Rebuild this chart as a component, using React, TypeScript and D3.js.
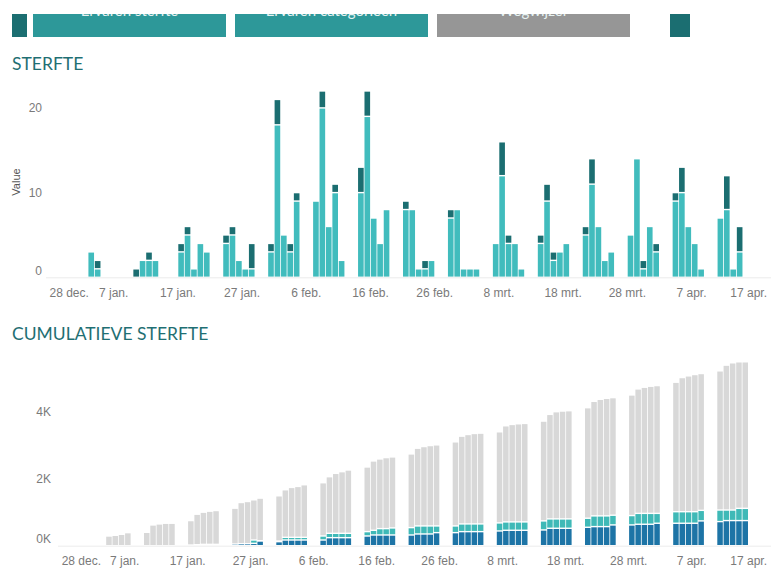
import React from "react";
import * as d3 from "d3";

// ---------- categories ----------
const weekStarts = [
  "2022-01-03", "2022-01-10", "2022-01-17", "2022-01-24", "2022-01-31",
  "2022-02-07", "2022-02-14", "2022-02-21", "2022-02-28", "2022-03-07",
  "2022-03-14", "2022-03-21", "2022-03-28", "2022-04-04", "2022-04-11",
];
const tickDates = [
  "2021-12-28", "2022-01-07", "2022-01-17", "2022-01-27", "2022-02-06", "2022-02-16",
  "2022-02-26", "2022-03-08", "2022-03-18", "2022-03-28", "2022-04-07", "2022-04-17",
];
const tickLabels = [
  "28 dec.", "7 jan.", "17 jan.", "27 jan.", "6 feb.", "16 feb.",
  "26 feb.", "8 mrt.", "18 mrt.", "28 mrt.", "7 apr.", "17 apr.",
];
const buttonLabels = ["Ervaren sterfte", "Ervaren categorieën", "Wegwijzer"];

// ---------- STERFTE (daily, weekdays) ----------
const sterfteLight = [
  3, 1, 0, 0, 0,
  0, 2, 2, 2, 0,
  3, 5, 1, 4, 3,
  4, 5, 2, 1, 1,
  3, 18, 5, 3, 9,
  9, 20, 6, 10, 2,
  10, 19, 7, 4, 8,
  8, 8, 1, 1, 2,
  7, 8, 1, 1, 1,
  4, 12, 4, 4, 1,
  4, 9, 2, 3, 4,
  5, 11, 6, 2, 3,
  5, 14, 1, 6, 3,
  9, 10, 6, 4, 1,
  7, 8, 1, 3, 0,
];
const sterfteDark = [
  0, 1, 0, 0, 0,
  1, 0, 1, 0, 0,
  1, 1, 0, 0, 0,
  1, 1, 0, 0, 3,
  1, 3, 0, 1, 1,
  0, 2, 0, 1, 0,
  3, 3, 0, 0, 0,
  1, 0, 0, 1, 0,
  1, 0, 0, 0, 0,
  0, 4, 1, 0, 0,
  1, 2, 1, 0, 0,
  1, 3, 0, 0, 0,
  0, 0, 1, 0, 1,
  1, 3, 0, 0, 0,
  0, 4, 0, 3, 0,
];

// ---------- CUMULATIEVE STERFTE ----------
const cumBlue = [
  0, 0, 0, 0, 0,
  0, 0, 0, 0, 0,
  20, 30, 40, 40, 40,
  50, 60, 60, 70, 140,
  120, 170, 170, 170, 170,
  170, 240, 240, 240, 240,
  290, 320, 320, 320, 320,
  320, 350, 350, 350, 390,
  390, 420, 420, 420, 420,
  440, 460, 460, 460, 460,
  470, 520, 520, 520, 520,
  550, 570, 570, 570, 620,
  620, 640, 640, 640, 670,
  670, 670, 670, 670, 740,
  720, 750, 750, 750, 750,
];
const cumTeal = [
  0, 0, 0, 0, 0,
  0, 0, 0, 0, 0,
  0, 0, 0, 0, 0,
  0, 0, 0, 100, 10,
  20, 80, 80, 80, 80,
  120, 130, 130, 130, 130,
  130, 140, 190, 190, 210,
  220, 240, 240, 240, 200,
  200, 230, 230, 230, 230,
  240, 250, 250, 250, 250,
  270, 280, 280, 280, 280,
  270, 320, 320, 320, 290,
  280, 325, 325, 325, 295,
  345, 345, 345, 345, 315,
  345, 315, 315, 365, 365,
];
const cumGrey = [
  40, 290, 310, 340, 390,
  400, 620, 650, 670, 670,
  730, 910, 960, 990, 1010,
  1070, 1230, 1260, 1200, 1270,
  1350, 1420, 1490, 1520, 1570,
  1590, 1690, 1790, 1840, 1890,
  1930, 2070, 2080, 2120, 2120,
  2200, 2320, 2370, 2400, 2420,
  2510, 2620, 2670, 2700, 2710,
  2720, 2870, 2910, 2930, 2940,
  2980, 3120, 3200, 3220, 3230,
  3300, 3420, 3480, 3510, 3510,
  3600, 3715, 3765, 3795, 3815,
  3865, 4005, 4055, 4095, 4085,
  4155, 4325, 4395, 4375, 4375,
];

const topTicks = [0, 10, 20];
const cumTicks = [0, 2000, 4000];

// ---------- helpers ----------
const parse = d3.timeParse("%Y-%m-%d");
const days: Date[] = weekStarts.flatMap((s) =>
  d3.range(5).map((i) => d3.timeDay.offset(parse(s) as Date, i))
);
const domain: [Date, Date] = [parse(tickDates[0]) as Date, parse(tickDates[tickDates.length - 1]) as Date];

const W = 771;
const H = 569;
const AXIS_FONT = "'Liberation Sans', Arial, sans-serif";
const TITLE_FONT = "Lato, 'Open Sans', sans-serif";
const TEAL_DARK = "#1b6e71";
const TEAL_LIGHT = "#41bcbd";
const BLUE = "#1d74a6";
const TEAL_MID = "#3fb9b7";
const GREY = "#d8d8d8";

type StackSpec = { keys: string[]; colors: string[]; rows: any[] };

function BarChart({
  x, y, spec, ticks, tickFmt, labelX, axisY, leftLine,
}: {
  x: d3.ScaleTime<number, number>;
  y: d3.ScaleLinear<number, number>;
  spec: StackSpec;
  ticks: number[];
  tickFmt: (v: number) => string;
  labelX: number;
  axisY: number;
  leftLine: number;
}) {
  const series = d3.stack<any>().keys(spec.keys)(spec.rows);
  const base = y(0);
  return (
    <g>
      <line x1={leftLine} x2={W} y1={base + 0.5} y2={base + 0.5} stroke="#ececec" strokeWidth={1} />
      {series.map((s, si) => (
        <g key={si} fill={spec.colors[si]}>
          {s.map((seg, i) => {
            const d = days[i];
            const x0 = x(d);
            const x1 = x(d3.timeDay.offset(d, 1));
            const yt = y(seg[1]);
            const yb = y(seg[0]);
            const h = yb - yt - 1.4;
            if (seg[1] - seg[0] <= 0 || h <= 0) return null;
            return (
              <rect key={i} x={x0 + 0.4} width={x1 - x0 - 0.8} y={yt + 0.7} height={h} />
            );
          })}
        </g>
      ))}
      {ticks.map((v) => (
        <text
          key={v}
          x={labelX}
          y={Math.min(y(v), base - 6.5)}
          textAnchor="end"
          dominantBaseline="central"
          fontFamily={AXIS_FONT}
          fontSize={12}
          fill="#7a7a7a"
        >
          {tickFmt(v)}
        </text>
      ))}
      {tickDates.map((t, i) => {
        const px = x(parse(t) as Date);
        let anchor: "start" | "middle" | "end" = "middle";
        let tx = px;
        if (i === 0) anchor = "start";
        if (i === tickDates.length - 1) {
          anchor = "end";
          tx = 767;
        }
        return (
          <text
            key={t}
            x={tx}
            y={axisY}
            textAnchor={anchor}
            dominantBaseline="central"
            fontFamily={AXIS_FONT}
            fontSize={12}
            fill="#7a7a7a"
          >
            {tickLabels[i]}
          </text>
        );
      })}
    </g>
  );
}

export default function App() {
  const xTop = d3.scaleTime().domain(domain).range([49.5, 755.7]);
  const yTop = d3.scaleLinear().domain([0, 20]).range([277.3, 107.9]);
  const xCum = d3.scaleTime().domain(domain).range([61.7, 754.7]);
  const yCum = d3.scaleLinear().domain([0, 4000]).range([545.7, 411.7]);

  const topRows = days.map((d, i) => ({ light: sterfteLight[i], dark: sterfteDark[i] }));
  const cumRows = days.map((d, i) => ({ blue: cumBlue[i], teal: cumTeal[i], grey: cumGrey[i] }));

  const buttons = [
    { x: 12, w: 15, fill: TEAL_DARK, label: "" },
    { x: 33, w: 193, fill: "#2d9899", label: buttonLabels[0] },
    { x: 235, w: 193, fill: "#2d9899", label: buttonLabels[1] },
    { x: 437, w: 193, fill: "#969696", label: buttonLabels[2] },
    { x: 670, w: 20, fill: TEAL_DARK, label: "" },
  ];

  return (
    <svg
      width={W}
      height={H}
      viewBox={`0 0 ${W} ${H}`}
      style={{ position: "absolute", left: 0, top: 0, background: "#fff" }}
    >
      <defs>
        <clipPath id="btnclip">
          <rect x={0} y={14} width={W} height={23} />
        </clipPath>
      </defs>
      <g clipPath="url(#btnclip)">
        {buttons.map((b, i) => (
          <g key={i}>
            <rect x={b.x} y={14} width={b.w} height={23} fill={b.fill} />
            {b.label && (
              <text
                x={b.x + b.w / 2}
                y={15.5}
                textAnchor="middle"
                fontFamily={TITLE_FONT}
                fontSize={15}
                fill="#e6f2f2"
              >
                {b.label}
              </text>
            )}
          </g>
        ))}
      </g>

      <text x={12} y={70} fontFamily={TITLE_FONT} fontSize={17.5} fill="#1f6f73">
        STERFTE
      </text>
      <text
        transform="translate(16,182) rotate(-90)"
        textAnchor="middle"
        dominantBaseline="central"
        fontFamily={AXIS_FONT}
        fontSize={11}
        fill="#555"
      >
        Value
      </text>
      <BarChart
        x={xTop}
        y={yTop}
        spec={{ keys: ["light", "dark"], colors: [TEAL_LIGHT, TEAL_DARK], rows: topRows }}
        ticks={topTicks}
        tickFmt={(v) => String(v)}
        labelX={42}
        axisY={293}
        leftLine={46}
      />

      <text x={12} y={340} fontFamily={TITLE_FONT} fontSize={17.5} fill="#1f6f73">
        CUMULATIEVE STERFTE
      </text>
      <BarChart
        x={xCum}
        y={yCum}
        spec={{ keys: ["blue", "teal", "grey"], colors: [BLUE, TEAL_MID, GREY], rows: cumRows }}
        ticks={cumTicks}
        tickFmt={(v) => `${v / 1000}K`}
        labelX={51}
        axisY={561}
        leftLine={58}
      />
    </svg>
  );
}
